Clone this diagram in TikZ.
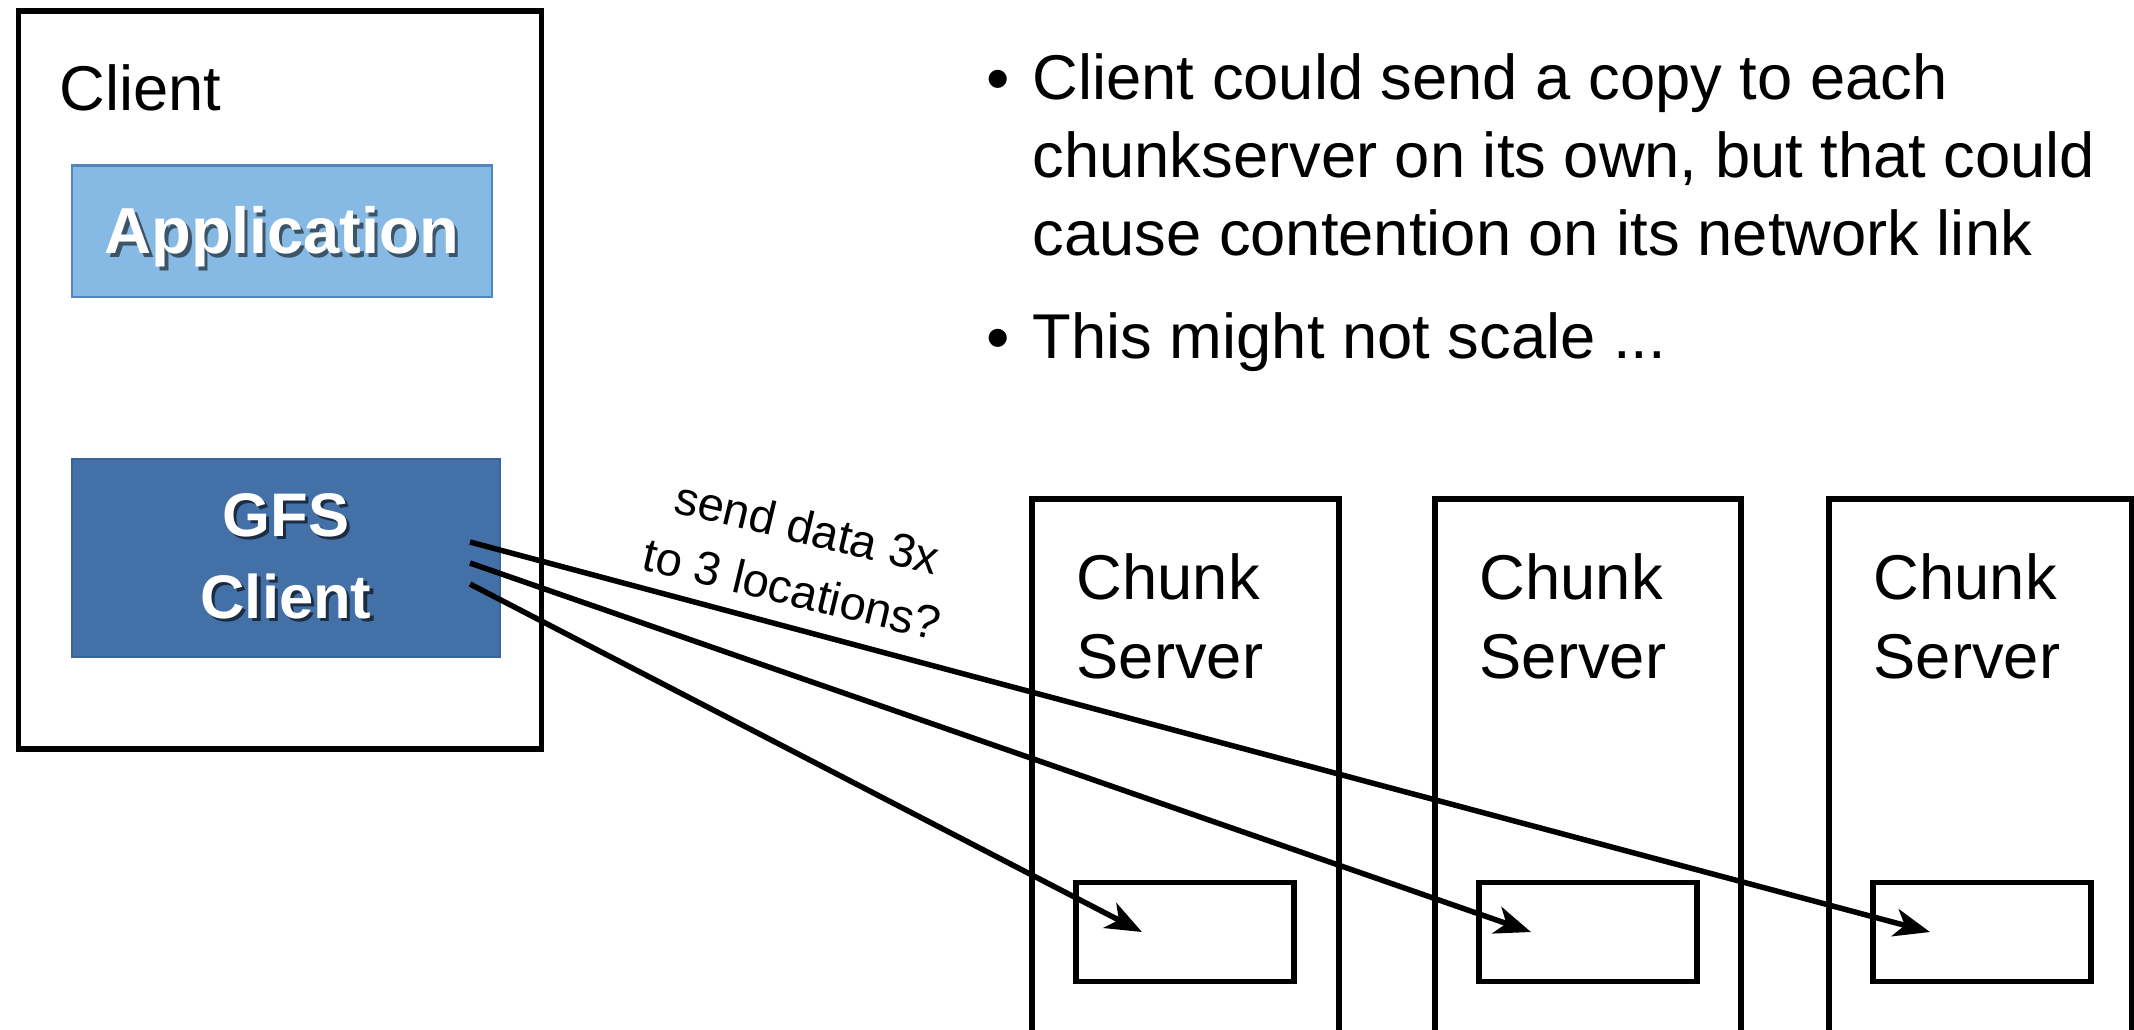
\documentclass[tikz,border=0pt]{standalone}
\usepackage{fontspec}
\setmainfont{Liberation Sans}
\usetikzlibrary{arrows.meta, positioning}
\definecolor{appblue}{RGB}{134,186,228}
\definecolor{appedge}{RGB}{84,134,190}
\definecolor{gfsblue}{RGB}{67,112,167}
\definecolor{gfsedge}{RGB}{58,100,152}
\newcommand{\shadowed}[2]{\makebox[0pt][l]{\hspace{0.9pt}\raisebox{-0.9pt}{\textcolor{#1}{#2}}}#2}

\begin{document}
\begin{tikzpicture}[x=0.01cm, y=-0.01cm,
    box/.style={draw, line width=0.055cm, inner sep=0pt},
    bodytext/.style={font=\fontsize{18}{22}\selectfont, inner sep=0pt, anchor=base west},
    bulletmark/.style={inner sep=0pt, font=\fontsize{19}{20}\selectfont},
    link/.style={line width=0.055cm, -{Stealth[length=0.36cm, width=0.28cm, inset=0.1cm]}}]
    \useasboundingbox (0,0) rectangle (2134,1029);

    % Client machine
    \node[box, minimum width=5.223cm, minimum height=7.372cm] (client) at (280,380) {};
    \node[bodytext] (clientname) at (59,110) {Client};
    \node[fill=appblue, draw=appedge, line width=0.6pt, minimum width=4.195cm, minimum height=1.31cm,
          text=white, font=\bfseries\fontsize{18.5}{22}\selectfont] (app) at (282,231)
          {\raisebox{-2.2pt}[\height][\depth]{\shadowed{appblue!45!black}{Application}}};
    \node[fill=gfsblue, draw=gfsedge, line width=0.6pt, minimum width=4.275cm, minimum height=1.98cm,
          text=white, align=center, font=\bfseries\fontsize{17.5}{23.3}\selectfont] (gfs) at (286,558)
          {\shadowed{gfsblue!40!black}{GFS}\\\shadowed{gfsblue!40!black}{Client}};

    % Bullet text
    \node[bulletmark] (dot1) at (998,86) {\textbullet};
    \node[bodytext] (b1a) at (1032,99) {Client could send a copy to each};
    \node[bodytext] (b1b) at (1032,177) {chunkserver on its own, but that could};
    \node[bodytext] (b1c) at (1032,255) {cause contention on its network link};
    \node[bulletmark] (dot2) at (998,345) {\textbullet};
    \node[bodytext] (b2a) at (1032,358) {This might not scale ...};

    % Chunk servers
    \foreach \i/\xl/\xr in {1/1032/1339, 2/1435/1741, 3/1829/2132} {
        \draw[line width=0.055cm] (\xl,1045) |- (\xr,499) -- (\xr,1045);
        \node[bodytext] (chunk\i) at (\xl+44,599) {Chunk};
        \node[bodytext] (server\i) at (\xl+44,678) {Server};
        \node[box, minimum width=2.18cm, minimum height=0.99cm] (slot\i) at (\xl+153,932) {};
    }

    % Three copies
    \coordinate (out1) at (470,542);
    \coordinate (out2) at (470,563);
    \coordinate (out3) at (470,584);
    \draw[link] (out1) -- ([xshift=-0.52cm]slot3.center);
    \draw[link] (out2) -- ([xshift=-0.57cm]slot2.center);
    \draw[link] (out3) -- ([xshift=-0.43cm]slot1.center);
    \node[font=\fontsize{13.4}{18}\selectfont, align=center, rotate=-13.5, inner sep=0pt] (question) at (800,558)
        {send data 3x\\to 3 locations?};
\end{tikzpicture}
\end{document}
